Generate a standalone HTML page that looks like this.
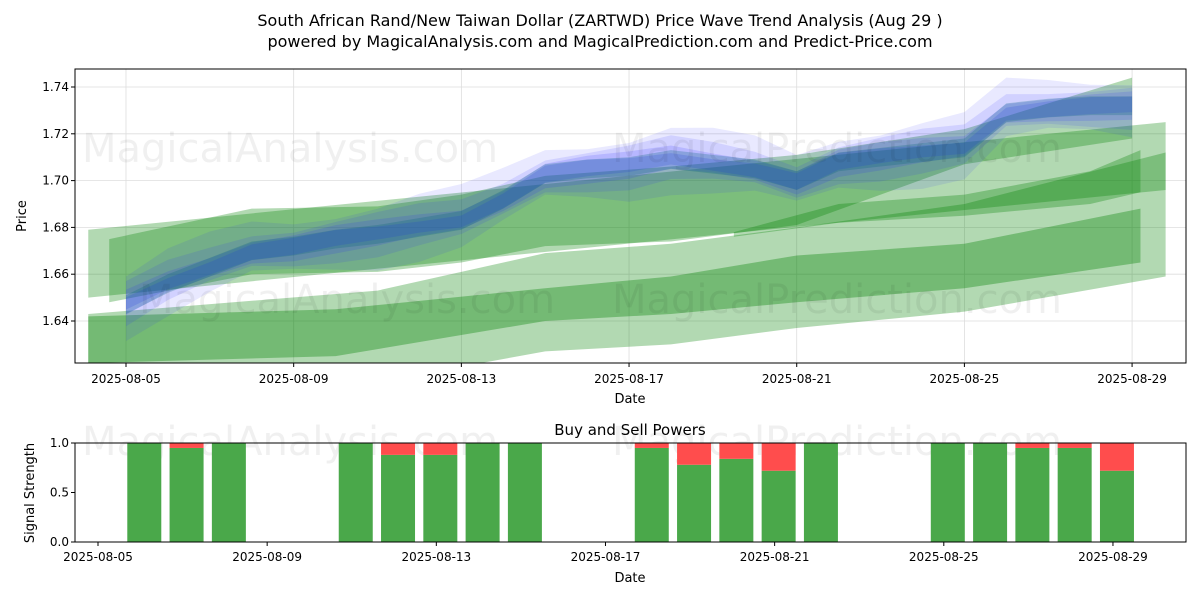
<!DOCTYPE html>
<html><head><meta charset="utf-8"><style>
body{margin:0;background:#fff;font-family:"Liberation Sans","DejaVu Sans",sans-serif}
svg text{font-family:"DejaVu Sans","Liberation Sans",sans-serif}
</style></head><body>
<svg id="s" width="1200" height="600" xmlns="http://www.w3.org/2000/svg">
<text x="600" y="26" text-anchor="middle" font-size="16">South African Rand/New Taiwan Dollar (ZARTWD) Price Wave Trend Analysis (Aug 29 )</text>
<text x="600" y="47" text-anchor="middle" font-size="16">powered by MagicalAnalysis.com and MagicalPrediction.com and Predict-Price.com</text>
<g id="topPanel"></g>
<g id="botPanel"></g>
</svg>
<script>
const tickDays=[5,9,13,17,21,25,29];
const tickLabels=["2025-08-05","2025-08-09","2025-08-13","2025-08-17","2025-08-21","2025-08-25","2025-08-29"];
const priceTicks=[1.64,1.66,1.68,1.70,1.72,1.74];
const priceDays=[5,6,7,8,9,10,11,12,13,14,15,16,17,18,19,20,21,22,23,24,25,26,27,28,29];
const priceVals=[1.647,1.656,1.663,1.670,1.672,1.675,1.677,1.680,1.683,1.692,1.703,1.705,1.706,1.709,1.707,1.705,1.700,1.708,1.710,1.712,1.714,1.729,1.731,1.732,1.732];
const bandADays=[4.1,29.8];const bandAUp=[1.679,1.725];const bandALo=[1.650,1.696];
const bandBDays=[4.6,8,11,13,15,18,21,25,29];
const bandBUp=[1.675,1.688,1.689,1.694,1.702,1.706,1.711,1.722,1.744];
const bandBLo=[1.648,1.660,1.661,1.665,1.672,1.674,1.681,1.707,1.718];
const bandCDays=[4.1,10,15,18,21,25,29.2];
const bandCUp=[1.642,1.645,1.654,1.659,1.668,1.673,1.688];
const bandCLo=[1.622,1.625,1.640,1.643,1.648,1.654,1.665];
const bandDDays=[4.1,11,15,18,21,25,29.8];
const bandDUp=[1.643,1.653,1.669,1.673,1.680,1.690,1.712];
const bandDLo=[1.610,1.614,1.627,1.630,1.637,1.644,1.659];
const bandEDays=[19.5,22,25,28,29.2];
const bandEUp=[1.678,1.690,1.694,1.704,1.713];
const bandELo=[1.676,1.682,1.685,1.690,1.695];
const sigDays=[6,7,8,11,12,13,14,15,18,19,20,21,22,25,26,27,28,29];
const buyVals=[1,0.95,1,1,0.88,0.88,1,1,0.95,0.78,0.84,0.72,1,1,1,0.95,0.95,0.72];
const sigTicks=[0,0.5,1.0];const sigLabels=["0.0","0.5","1.0"];

const NS="http://www.w3.org/2000/svg";
function el(p,t,a){const e=document.createElementNS(NS,t);for(const k in a)e.setAttribute(k,a[k]);p.appendChild(e);return e;}
const T={l:75,r:1186,t:69,b:363};
const tx=d=>126+(d-5)*41.92, ty=v=>87+(1.74-v)*2340;
const bx=d=>98+(d-5)*42.29, by=v=>542-v*99;
const topG=document.getElementById('topPanel'), botG=document.getElementById('botPanel');
el(topG,'defs',{}).innerHTML='<clipPath id="cp"><rect x="75" y="69" width="1111" height="294"/></clipPath>';
tickDays.forEach(d=>{const g=el(topG,'line',{x1:tx(d),x2:tx(d),y1:T.t,y2:T.b,stroke:'#ddd','stroke-width':0.8});});
priceTicks.forEach(v=>{const g=el(topG,'line',{x1:T.l,x2:T.r,y1:ty(v),y2:ty(v),stroke:'#ddd','stroke-width':0.8});});
const plot=el(topG,'g',{'clip-path':'url(#cp)'});
function band(days,up,lo,fill,name){
  let pts=days.map((d,i)=>tx(d)+','+ty(up[i]));
  for(let i=days.length-1;i>=0;i--)pts.push(tx(days[i])+','+ty(lo[i]));
  const p=el(plot,'polygon',{points:pts.join(' '),fill:fill});
  
  
}
band(bandDDays,bandDUp,bandDLo,'rgba(0,128,0,0.3)','green-band-lower');
band(bandCDays,bandCUp,bandCLo,'rgba(0,128,0,0.35)','green-band-dark-lower');
band(bandADays,bandAUp,bandALo,'rgba(0,128,0,0.3)','green-band-upper');
band(bandEDays,bandEUp,bandELo,'rgba(0,128,0,0.3)','green-band-dark-middle');
band(bandBDays,bandBUp,bandBLo,'rgba(0,128,0,0.3)','green-band-price');
[[0.012,0.1],[0.008,0.12],[0.005,0.15],[0.003,0.18]].forEach(([w,a],k)=>{
  const up=priceVals.map((v,i)=>v+w*(1+0.3*Math.sin(i+k))), lo=priceVals.map((v,i)=>v-w*(1+0.3*Math.cos(i+k)));
  band(priceDays,up,lo,'rgba(40,40,255,'+a+')','blue-price-band');
});
band(priceDays,priceVals.map(v=>v+0.004),priceVals.map(v=>v-0.004),'rgba(0,100,120,0.25)','price-core-band');
[[290,162,'MagicalAnalysis.com'],[837,162,'MagicalPrediction.com'],[347,313,'MagicalAnalysis.com'],[837,313,'MagicalPrediction.com']].forEach(([x,y,s])=>{const t=el(topG,'text',{x:x,y:y,'text-anchor':'middle','font-size':40,fill:'rgba(0,0,0,0.06)'});t.textContent=s;});
el(topG,'rect',{x:T.l,y:T.t,width:T.r-T.l,height:T.b-T.t,fill:'none',stroke:'#000','stroke-width':1});
tickDays.forEach((d,i)=>{el(topG,'line',{x1:tx(d),x2:tx(d),y1:T.b,y2:T.b+4,stroke:'#000'});const t=el(topG,'text',{x:tx(d),y:383,'text-anchor':'middle','font-size':12});t.textContent=tickLabels[i];});
priceTicks.forEach(v=>{el(topG,'line',{x1:T.l-4,x2:T.l,y1:ty(v),y2:ty(v),stroke:'#000'});const t=el(topG,'text',{x:69,y:ty(v)+4,'text-anchor':'end','font-size':12});t.textContent=v.toFixed(2);});
let t=el(topG,'text',{x:630,y:403,'text-anchor':'middle','font-size':13});t.textContent='Date';


t=el(topG,'text',{x:26,y:216,'text-anchor':'middle','font-size':13,transform:'rotate(-90 26 216)'});t.textContent='Price';


t=el(botG,'text',{x:630,y:435,'text-anchor':'middle','font-size':15});t.textContent='Buy and Sell Powers';


[[290,455,'MagicalAnalysis.com'],[837,455,'MagicalPrediction.com']].forEach(([x,y,s])=>{const w=el(botG,'text',{x:x,y:y,'text-anchor':'middle','font-size':40,fill:'rgba(0,0,0,0.06)'});w.textContent=s;});
sigDays.forEach((d,i)=>{
  const b=buyVals[i];
  const g=el(botG,'rect',{x:bx(d)-13,y:by(b),width:34,height:by(0)-by(b),fill:'#4aa84a'});
  
  
  if(b<1){const r=el(botG,'rect',{x:bx(d)-13,y:by(1),width:34,height:by(b)-by(1),fill:'#ff4d4d'});
  
  }
});
el(botG,'rect',{x:75,y:443,width:1111,height:99,fill:'none',stroke:'#000'});
tickDays.forEach((d,i)=>{el(botG,'line',{x1:bx(d),x2:bx(d),y1:542,y2:546,stroke:'#000'});const l=el(botG,'text',{x:bx(d),y:561,'text-anchor':'middle','font-size':12});l.textContent=tickLabels[i];});
sigTicks.forEach((v,i)=>{el(botG,'line',{x1:71,x2:75,y1:by(v),y2:by(v),stroke:'#000'});const l=el(botG,'text',{x:69,y:by(v)+4,'text-anchor':'end','font-size':12});l.textContent=sigLabels[i];});
t=el(botG,'text',{x:630,y:582,'text-anchor':'middle','font-size':13});t.textContent='Date';


t=el(botG,'text',{x:34,y:493,'text-anchor':'middle','font-size':13,transform:'rotate(-90 34 493)'});t.textContent='Signal Strength';


</script>
</body></html>
